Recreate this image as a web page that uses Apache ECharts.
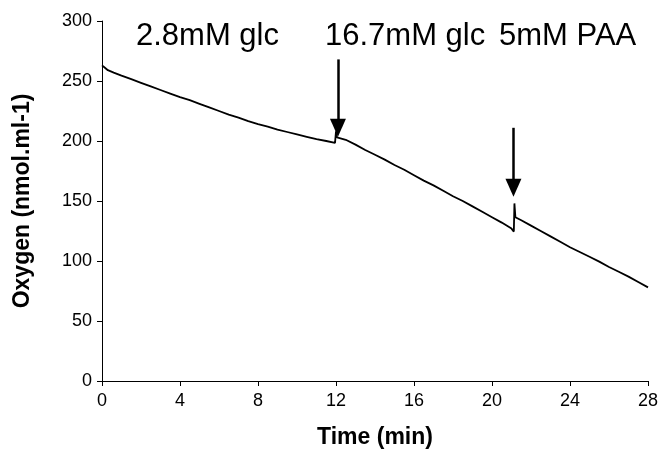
<!DOCTYPE html>
<html>
<head>
<meta charset="utf-8">
<script src="https://cdn.jsdelivr.net/npm/echarts@6/dist/echarts.min.js"></script>
<style>
  html, body { margin: 0; padding: 0; background: #fff; }
  #chart { width: 663px; height: 463px; }
</style>
</head>
<body>
<div id="chart"></div>
<script>
// Oxygen trace: time (min) and oxygen concentration (nmol/ml)
const timeMin = [
  0, 0.15, 0.3, 0.6, 1, 1.5, 2, 2.5, 3, 3.5, 4, 4.5, 5, 5.5, 6, 6.5, 7, 7.5, 8, 8.5,
  9, 9.5, 10, 10.5, 11, 11.5, 11.95, 12.0, 12.05, 12.5, 13, 13.5, 14, 14.5, 15, 15.5,
  16, 16.5, 17, 17.5, 18, 18.5, 19, 19.5, 20, 20.5, 21, 21.12, 21.15, 21.2, 21.5, 22,
  22.5, 23, 23.5, 24, 24.5, 25, 25.5, 26, 26.5, 27, 27.5, 28
];
const oxygen = [
  263, 261, 259, 257, 254.5, 251.5, 248.5, 245.5, 242.5, 239.5, 236.5, 234, 231, 228, 225, 222, 219.5, 216.5, 214, 212,
  209.5, 207.5, 205.5, 203.5, 201.5, 200, 198.5, 208, 203, 201, 197, 192.5, 188.5, 184.5, 180, 176,
  171.5, 167, 163, 158.5, 154, 150, 145.5, 141, 136.5, 132, 127, 124.5, 148, 136.5, 134, 129.5,
  125, 120.5, 116, 111.5, 107.5, 103.5, 99.5, 95, 91, 87, 82.5, 78
];

// Additions: [time, arrow top, arrow tip]
const additions = [
  [12.1, 268, 211],
  [21.1, 211, 161]
];
const additionLabels = ['2.8mM glc', '16.7mM glc', '5mM PAA'];

const xTicks = [0, 28, 4];   // min, max, interval
const yTicks = [0, 300, 50];

const chart = echarts.init(document.getElementById('chart'));

const series = [{
  type: 'line',
  data: timeMin.map((t, i) => [t, oxygen[i]]),
  showSymbol: false,
  lineStyle: { color: '#000', width: 1.8 },
  animation: false,
  markLine: {
    silent: true,
    animation: false,
    symbol: ['none', 'triangle'],
    symbolSize: [16, 18],
    symbolOffset: [0, 0],
    lineStyle: { color: '#000', width: 2.5, type: 'solid' },
    itemStyle: { color: '#000' },
    label: { show: false },
    data: additions.map(a => [
      { coord: [a[0], a[1]] },
      { coord: [a[0], a[2]] }
    ])
  }
}];

const labelFont = '31px "Liberation Sans", Arial';

chart.setOption({
  animation: false,
  backgroundColor: '#fff',
  grid: { left: 102, right: 15, top: 21, bottom: 82 },
  xAxis: {
    type: 'value',
    min: xTicks[0], max: xTicks[1], interval: xTicks[2],
    name: 'Time (min)',
    nameLocation: 'middle',
    nameGap: 45,
    nameTextStyle: { fontFamily: 'Liberation Sans, Arial', fontWeight: 'bold', fontSize: 23, color: '#000' },
    axisLine: { lineStyle: { color: '#000', width: 1 } },
    axisTick: { show: true, length: 5, lineStyle: { color: '#000' } },
    axisLabel: { fontFamily: 'Liberation Sans, Arial', fontSize: 18, color: '#000', margin: 11 },
    splitLine: { show: false }
  },
  yAxis: {
    type: 'value',
    min: yTicks[0], max: yTicks[1], interval: yTicks[2],
    name: 'Oxygen (nmol.ml-1)',
    nameLocation: 'middle',
    nameGap: 68,
    nameTextStyle: { fontFamily: 'Liberation Sans, Arial', fontWeight: 'bold', fontSize: 23, color: '#000' },
    axisLine: { show: true, lineStyle: { color: '#000', width: 1 } },
    axisTick: { show: true, length: 5, lineStyle: { color: '#000' } },
    axisLabel: { fontFamily: 'Liberation Sans, Arial', fontSize: 18, color: '#000', margin: 10 },
    splitLine: { show: false }
  },
  graphic: [
    { type: 'text', left: 136, top: 21, style: { text: additionLabels[0], font: labelFont, fill: '#000' } },
    { type: 'text', left: 325, top: 21, style: { text: additionLabels[1], font: labelFont, fill: '#000' } },
    { type: 'text', left: 499, top: 21, style: { text: additionLabels[2], font: labelFont, fill: '#000' } }
  ],
  series: series
});
</script>
</body>
</html>
